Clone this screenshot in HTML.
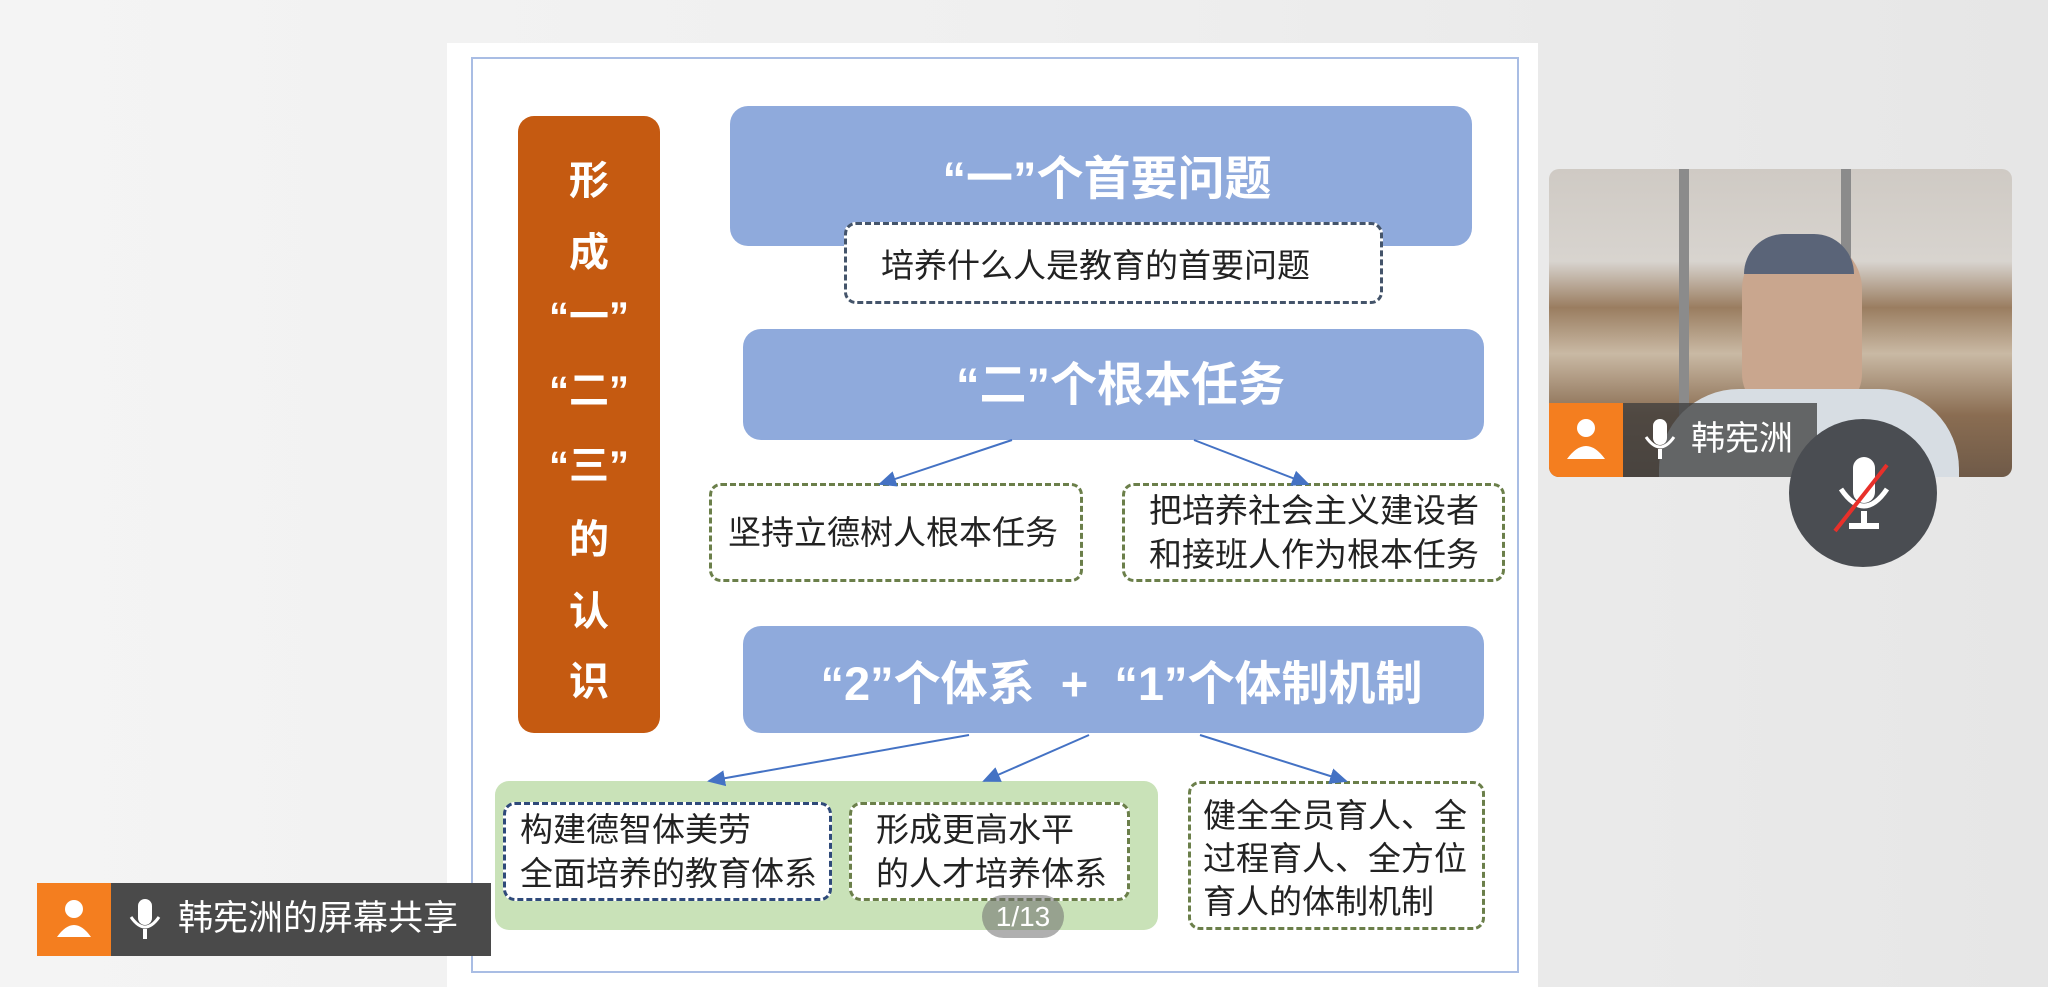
<!DOCTYPE html>
<html><head><meta charset="utf-8"><style>
*{margin:0;padding:0;box-sizing:border-box}
body{width:2048px;height:987px;overflow:hidden;position:relative;background:linear-gradient(90deg,#f4f4f4 0%,#efefef 50%,#e6e6e6 100%);font-family:"Liberation Sans","Noto Sans CJK SC",sans-serif}
.a{position:absolute}
.slide{left:447px;top:43px;width:1091px;height:944px;background:#fff}
.frame{left:471px;top:57px;width:1048px;height:916px;border:2px solid #a9bde4}
.or{left:518px;top:116px;width:142px;height:617px;background:#c55a11;border-radius:16px}
.oc{position:absolute;left:0;width:142px;text-align:center;color:#fff;font-weight:bold;font-size:40px;line-height:1}
.bl{background:#8faadc;border-radius:18px;color:#fff;font-weight:bold;font-size:47px;display:flex;align-items:center;justify-content:center;white-space:nowrap}
.db{background:#fff;border:3px dashed #44546a;border-radius:12px;font-size:33px;color:#222;line-height:44px;white-space:nowrap}
.dg{background:#fff;border:3px dashed #6b7f4a;border-radius:12px;font-size:33px;color:#222;line-height:44px;white-space:nowrap}
</style></head><body>
<div class="a slide"></div>
<div class="a frame"></div>
<div class="a or">
<div class="oc" style="top:45px">形</div>
<div class="oc" style="top:117px">成</div>
<div class="oc" style="top:181px">“一”</div>
<div class="oc" style="top:255px">“二”</div>
<div class="oc" style="top:330px">“三”</div>
<div class="oc" style="top:404px">的</div>
<div class="oc" style="top:476px">认</div>
<div class="oc" style="top:546px">识</div>
</div>
<div class="a bl" style="left:730px;top:106px;width:742px;height:140px;padding-bottom:4px;padding-left:12px">“一”个首要问题</div>
<div class="a db" style="left:844px;top:222px;width:539px;height:82px;padding:19px 0 0 34px">培养什么人是教育的首要问题</div>
<div class="a bl" style="left:743px;top:329px;width:741px;height:111px;padding-bottom:8px;padding-left:14px">“二”个根本任务</div>
<div class="a dg" style="left:709px;top:483px;width:374px;height:99px;padding:25px 0 0 16px">坚持立德树人根本任务</div>
<div class="a dg" style="left:1122px;top:483px;width:383px;height:99px;padding:3px 0 0 24px">把培养社会主义建设者<br>和接班人作为根本任务</div>
<div class="a bl" style="left:743px;top:626px;width:741px;height:107px;padding-left:16px">“2”个体系&nbsp; +&nbsp; “1”个体制机制</div>
<div class="a" style="left:495px;top:781px;width:663px;height:149px;background:#c9e2b8;border-radius:14px"></div>
<div class="a db" style="left:503px;top:802px;width:329px;height:99px;padding:3px 0 0 14px;border-color:#2f4a7a">构建德智体美劳<br>全面培养的教育体系</div>
<div class="a dg" style="left:849px;top:802px;width:281px;height:99px;padding:3px 0 0 24px">形成更高水平<br>的人才培养体系</div>
<div class="a dg" style="left:1188px;top:781px;width:297px;height:149px;padding:10px 0 0 12px;line-height:43px">健全全员育人、全<br>过程育人、全方位<br>育人的体制机制</div>
<svg class="a" style="left:0;top:0" width="2048" height="987">
<defs><marker id="m" markerWidth="10" markerHeight="10" refX="8" refY="5" orient="auto"><path d="M0,1 L9,5 L0,9 z" fill="#4472c4"/></marker></defs>
<g stroke="#4472c4" stroke-width="2" marker-end="url(#m)">
<line x1="1012" y1="440" x2="880" y2="484"/>
<line x1="1194" y1="440" x2="1308" y2="484"/>
<line x1="969" y1="735" x2="709" y2="781"/>
<line x1="1089" y1="735" x2="984" y2="781"/>
<line x1="1200" y1="735" x2="1346" y2="781"/>
</g></svg>
<div class="a" style="left:982px;top:895px;width:82px;height:43px;border-radius:22px;background:rgba(110,110,110,.55);color:#fff;font-size:28px;text-align:center;line-height:43px">1/13</div>
<div class="a" style="left:37px;top:883px;width:454px;height:73px;background:#4a4a4a"></div>
<div class="a" style="left:37px;top:883px;width:74px;height:73px;background:#f47e1f"></div>
<svg class="a" style="left:37px;top:883px" width="160" height="73"><circle cx="37" cy="26" r="9" fill="#fff"/><path d="M20,54 Q37,30 54,54 z" fill="#fff"/><rect x="101" y="16" width="14" height="26" rx="7" fill="#fff"/><path d="M94,34 Q108,54 122,34" stroke="#fff" stroke-width="3" fill="none"/><rect x="106" y="46" width="4" height="10" fill="#fff"/></svg>
<div class="a" style="left:178px;top:898px;color:#fff;font-size:35px;line-height:42px">韩宪洲的屏幕共享</div>
<div class="a" style="left:1549px;top:169px;width:463px;height:308px;border-radius:10px;overflow:hidden;background:linear-gradient(180deg,#cfcac4 0%,#d8d4cf 30%,#9a7d60 45%,#c9b9a4 60%,#8a6d52 80%,#6f5a48 100%)">
<div class="a" style="left:130px;top:0;width:10px;height:308px;background:#8b8b8b"></div>
<div class="a" style="left:292px;top:0;width:10px;height:308px;background:#8b8b8b"></div>
<div class="a" style="left:193px;top:70px;width:120px;height:175px;border-radius:50px 50px 40px 40px;background:#c9a68e"></div>
<div class="a" style="left:195px;top:65px;width:110px;height:40px;border-radius:50px 50px 0 0;background:#5a6478"></div>
<div class="a" style="left:110px;top:220px;width:300px;height:120px;border-radius:80px 80px 0 0;background:#d7dde3"></div>
<div class="a" style="left:0;top:234px;width:74px;height:74px;background:#f47e1f"></div>
<div class="a" style="left:74px;top:234px;width:194px;height:74px;background:rgba(60,60,60,.75)"></div>
<svg class="a" style="left:0;top:234px" width="140" height="74"><circle cx="37" cy="25" r="9" fill="#fff"/><path d="M18,56 Q37,30 56,56 z" fill="#fff"/><rect x="104" y="16" width="14" height="26" rx="7" fill="#fff"/><path d="M97,34 Q111,54 125,34" stroke="#fff" stroke-width="3" fill="none"/><rect x="109" y="46" width="4" height="10" fill="#fff"/></svg>
<div class="a" style="left:142px;top:250px;color:#fff;font-size:34px;line-height:40px">韩宪洲</div>
</div>
<div class="a" style="left:1789px;top:419px;width:148px;height:148px;border-radius:50%;background:#4a4d52"></div>
<svg class="a" style="left:1789px;top:419px" width="148" height="148"><rect x="64" y="38" width="22" height="46" rx="11" fill="#fff"/><path d="M52,70 Q75,104 98,70" stroke="#fff" stroke-width="5" fill="none"/><rect x="72" y="92" width="6" height="14" fill="#fff"/><rect x="60" y="104" width="30" height="6" fill="#fff"/><line x1="46" y1="112" x2="98" y2="46" stroke="#e8302a" stroke-width="4"/></svg>
</body></html>
